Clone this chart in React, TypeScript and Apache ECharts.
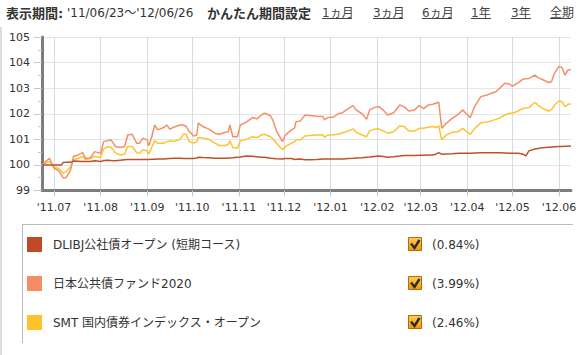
import React, { useEffect, useRef } from 'react';
import * as echarts from 'echarts';

const dates = [
  '2011-06-23','2011-06-28','2011-07-01','2011-07-04','2011-07-06','2011-07-07','2011-07-09','2011-07-12','2011-07-14','2011-07-17','2011-07-20','2011-07-22','2011-07-25','2011-07-28',
  '2011-08-01','2011-08-03','2011-08-06','2011-08-08','2011-08-11','2011-08-14','2011-08-17','2011-08-19','2011-08-22','2011-08-25','2011-08-27','2011-08-29',
  '2011-09-01','2011-09-02','2011-09-04','2011-09-06','2011-09-08','2011-09-12','2011-09-14','2011-09-16','2011-09-19','2011-09-23','2011-09-25','2011-09-27','2011-09-29',
  '2011-10-02','2011-10-04','2011-10-05','2011-10-08','2011-10-12','2011-10-16','2011-10-19','2011-10-23','2011-10-25','2011-10-26','2011-10-28','2011-10-31',
  '2011-11-02','2011-11-06','2011-11-10','2011-11-13','2011-11-16','2011-11-18','2011-11-22','2011-11-24','2011-11-26','2011-11-30',
  '2011-12-02','2011-12-06','2011-12-08','2011-12-09','2011-12-12','2011-12-15','2011-12-18','2011-12-23','2011-12-27','2011-12-28','2011-12-30',
  '2012-01-03','2012-01-06','2012-01-09','2012-01-13','2012-01-16','2012-01-18','2012-01-22','2012-01-25','2012-01-27','2012-01-30',
  '2012-02-02','2012-02-05','2012-02-08','2012-02-12','2012-02-16','2012-02-19','2012-02-22','2012-02-26','2012-02-29',
  '2012-03-03','2012-03-06','2012-03-09','2012-03-11','2012-03-13','2012-03-15','2012-03-18','2012-03-22','2012-03-26','2012-03-29','2012-03-31',
  '2012-04-03','2012-04-06','2012-04-10','2012-04-14','2012-04-17','2012-04-20','2012-04-23','2012-04-26','2012-04-29',
  '2012-05-01','2012-05-05','2012-05-08','2012-05-10','2012-05-12','2012-05-16','2012-05-18','2012-05-21','2012-05-25','2012-05-27','2012-05-29',
  '2012-06-01','2012-06-03','2012-06-05','2012-06-07','2012-06-09'
];

const dlibj = [
  100.00,100.00,100.00,100.00,100.00,100.09,100.10,100.10,100.15,100.14,100.13,100.13,100.13,100.16,
  100.13,100.17,100.18,100.17,100.16,100.18,100.20,100.21,100.21,100.21,100.21,100.21,
  100.21,100.21,100.22,100.22,100.23,100.23,100.24,100.25,100.26,100.26,100.25,100.25,100.25,
  100.25,100.27,100.30,100.29,100.28,100.26,100.26,100.26,100.27,100.27,100.28,100.30,
  100.31,100.35,100.34,100.32,100.30,100.30,100.26,100.25,100.24,100.23,
  100.25,100.25,100.21,100.22,100.23,100.20,100.20,100.21,100.23,100.23,100.23,
  100.23,100.23,100.23,100.25,100.26,100.27,100.28,100.30,100.31,100.33,
  100.35,100.33,100.30,100.32,100.35,100.37,100.37,100.37,100.38,
  100.38,100.39,100.39,100.42,100.48,100.42,100.43,100.44,100.46,100.46,100.46,
  100.46,100.47,100.48,100.48,100.48,100.48,100.48,100.47,100.46,
  100.46,100.46,100.42,100.35,100.55,100.62,100.64,100.67,100.69,100.70,100.71,
  100.72,100.72,100.73,100.73,100.74
];

const nihon = [
  100.00,100.26,99.87,99.78,99.60,99.50,99.50,99.80,100.33,100.39,100.48,100.26,100.26,100.52,
  100.45,100.91,100.95,100.97,100.72,100.68,100.72,101.17,101.20,100.85,100.85,101.04,
  100.98,100.75,101.09,101.56,101.37,101.46,101.56,101.40,101.48,101.56,101.56,101.50,101.30,
  101.13,101.17,101.63,101.50,101.40,101.24,101.20,101.28,101.30,101.56,101.10,101.10,
  101.56,101.67,101.85,101.80,101.95,102.02,101.93,101.69,101.33,100.91,
  101.17,101.37,101.43,101.69,101.72,101.95,101.93,101.90,101.89,101.76,101.85,
  101.87,102.00,102.04,102.21,102.32,102.15,102.00,101.78,102.15,102.24,
  102.28,102.15,101.95,102.04,102.34,102.28,102.11,102.15,102.32,
  102.20,102.34,102.37,102.41,102.45,101.43,101.63,101.82,101.98,102.15,102.02,
  101.85,102.30,102.67,102.73,102.80,102.86,103.02,103.19,103.16,
  103.08,103.22,103.35,103.37,103.38,103.51,103.41,103.34,103.22,103.25,103.58,
  103.85,103.81,103.51,103.71,103.73
];

const smt = [
  100.00,100.13,99.92,99.86,99.75,99.67,99.74,99.92,100.20,100.25,100.33,100.20,100.26,100.33,
  100.29,100.63,100.72,100.68,100.46,100.39,100.42,100.72,100.72,100.48,100.46,100.59,
  100.55,100.42,100.68,100.94,100.85,100.85,100.91,100.94,100.92,101.00,101.20,101.20,100.91,
  100.85,100.91,101.07,101.05,101.00,100.85,100.76,100.76,100.81,100.94,100.68,100.65,
  100.94,101.00,101.10,101.07,101.17,101.20,101.10,101.00,100.85,100.59,
  100.72,100.85,100.90,100.98,100.98,101.13,101.15,101.17,101.17,101.07,101.17,
  101.18,101.20,101.26,101.33,101.41,101.28,101.17,101.10,101.33,101.39,
  101.41,101.33,101.24,101.30,101.52,101.50,101.33,101.33,101.43,
  101.43,101.47,101.50,101.46,101.52,100.98,101.17,101.28,101.30,101.43,101.33,
  101.20,101.43,101.65,101.68,101.72,101.78,101.85,101.95,102.02,
  102.02,102.11,102.21,102.22,102.24,102.45,102.34,102.21,102.11,102.15,102.34,
  102.50,102.47,102.28,102.37,102.38
];

const seriesNames = ['DLIBJ公社債オープン (短期コース)', '日本公共債ファンド2020', 'SMT 国内債券インデックス・オープン'];
const seriesValues = [dlibj, nihon, smt];
const returnLabels = ['(0.84%)', '(3.99%)', '(2.46%)'];
const monthTicks = ['2011-07-01','2011-08-01','2011-09-01','2011-10-01','2011-11-01','2011-12-01','2012-01-01','2012-02-01','2012-03-01','2012-04-01','2012-05-01','2012-06-01'];
const axisStart = '2011-06-23';
const axisEnd = '2012-06-09';
const yMin = 99;
const yMax = 105;
const headerLabel = '表示期間:';
const periodText = "'11/06/23〜'12/06/26";
const quickLabel = 'かんたん期間設定';
const periodLinks = ['1ヵ月', '3ヵ月', '6ヵ月', '1年', '3年', '全期'];

const legendColors = ['#bf4a23', '#f68c62', '#ffc22a'];
const lineColors = ['#c0502a', '#f58f68', '#ffc230'];
const linkX = [322, 373, 422, 471, 511, 550];
const linkW = [30, 30, 30, 20, 20, 21];
const FONT = "'DejaVu Sans', 'Noto Sans CJK JP', sans-serif";

function toTime(s: string) {
  const [y, m, d] = s.split('-').map(Number);
  return new Date(y, m - 1, d).getTime();
}

export default function App() {
  const ref = useRef<HTMLDivElement>(null);
  useEffect(() => {
    if (!ref.current) return;
    const chart = echarts.init(ref.current, null, { renderer: 'svg' });
    const tickTimes = monthTicks.map(toTime);
    const graphics: any[] = [];
    graphics.push({ type: 'rect', shape: { x: 0, y: 27, width: 2, height: 328 }, style: { fill: '#dcdcdc' }, silent: true });
    graphics.push({ type: 'text', x: 6, y: 13, style: { text: headerLabel, fontSize: 13, fontWeight: 'bold', fontFamily: FONT, fill: '#333', verticalAlign: 'middle' } });
    graphics.push({ type: 'text', x: 67, y: 13, style: { text: periodText, fontSize: 12, fontFamily: FONT, fill: '#333', verticalAlign: 'middle' } });
    graphics.push({ type: 'text', x: 207, y: 13, style: { text: quickLabel, fontSize: 13, fontWeight: 'bold', fontFamily: FONT, fill: '#333', verticalAlign: 'middle' } });
    periodLinks.forEach((t, i) => {
      graphics.push({ type: 'text', x: linkX[i], y: 13, style: { text: t, fontSize: 12, fontFamily: FONT, fill: '#444', verticalAlign: 'middle' } });
      graphics.push({ type: 'line', shape: { x1: linkX[i], y1: 18.5, x2: linkX[i] + linkW[i], y2: 18.5 }, style: { stroke: '#444', lineWidth: 1 } });
    });
    graphics.push({ type: 'line', shape: { x1: 22, y1: 224.5, x2: 573, y2: 224.5 }, style: { stroke: '#bbbbbb', lineWidth: 1 } });
    graphics.push({ type: 'line', shape: { x1: 22.5, y1: 224, x2: 22.5, y2: 343 }, style: { stroke: '#bbbbbb', lineWidth: 1 } });
    returnLabels.forEach((t, i) => {
      const y0 = 237 + i * 39;
      graphics.push({
        type: 'rect', shape: { x: 408.5, y: y0 + 0.5, width: 13, height: 13 },
        style: { fill: new echarts.graphic.LinearGradient(0, 0, 0, 1, [{ offset: 0, color: '#ffcc55' }, { offset: 1, color: '#f39a00' }]), stroke: '#b06a10', lineWidth: 1 }
      });
      graphics.push({ type: 'polyline', shape: { points: [[411, y0 + 6.5], [414.5, y0 + 11], [419.5, y0 + 3]] }, style: { stroke: '#2b2b2b', lineWidth: 2.4, fill: 'none' } });
      graphics.push({ type: 'text', x: 432, y: y0 + 7.5, style: { text: t, fontSize: 12, fontFamily: FONT, fill: '#333', verticalAlign: 'middle' } });
    });

    chart.setOption({
      animation: false,
      grid: { left: 42, right: 12, top: 37, bottom: 164.5, containLabel: false },
      legend: {
        orient: 'vertical', left: 27, top: 237, padding: 0, itemWidth: 15, itemHeight: 15, itemGap: 24, icon: 'rect',
        selectedMode: false,
        data: seriesNames.map((n, i) => ({ name: n, itemStyle: { color: legendColors[i] } })),
        textStyle: { fontSize: 12, color: '#333', fontFamily: FONT, padding: [0, 0, 0, 6] }
      },
      xAxis: {
        type: 'value', min: toTime(axisStart), max: toTime(axisEnd),
        axisLine: { show: true, lineStyle: { color: '#7d7d7d', width: 3 } },
        axisTick: { show: true, customValues: tickTimes, length: 6, lineStyle: { color: '#b8c8d8' } },
        axisLabel: {
          customValues: tickTimes, margin: 11, color: '#333', fontSize: 11, fontFamily: FONT,
          formatter: (v: number) => {
            const d = new Date(v);
            const yy = String(d.getFullYear() % 100).padStart(2, '0');
            const mm = String(d.getMonth() + 1).padStart(2, '0');
            return "'" + yy + '.' + mm;
          }
        },
        splitLine: { show: true, lineStyle: { color: '#d6dce3', width: 1 } }
      },
      yAxis: {
        type: 'value', min: yMin, max: yMax, interval: 1,
        axisLine: { show: true, lineStyle: { color: '#7d7d7d', width: 3 } },
        axisTick: { show: true, length: 8, lineStyle: { color: '#b8c8d8' } },
        minorTick: { show: true, splitNumber: 2, length: 4, lineStyle: { color: '#b8c8d8' } },
        axisLabel: { margin: 12, color: '#333', fontSize: 11, fontFamily: FONT },
        splitLine: { show: true, lineStyle: { color: '#e6e6e6', width: 1 } }
      },
      series: seriesNames.map((n, i) => ({
        type: 'line', name: n, showSymbol: false, symbol: 'none',
        data: dates.map((d, j) => [toTime(d), seriesValues[i][j]]),
        itemStyle: { color: legendColors[i] },
        lineStyle: { color: lineColors[i], width: 1.5 },
        z: 3 + (2 - i)
      })),
      graphic: graphics
    });
    return () => chart.dispose();
  }, []);
  return <div ref={ref} style={{ position: 'fixed', left: 0, top: 0, width: 583, height: 355, background: '#fff' }} />;
}
